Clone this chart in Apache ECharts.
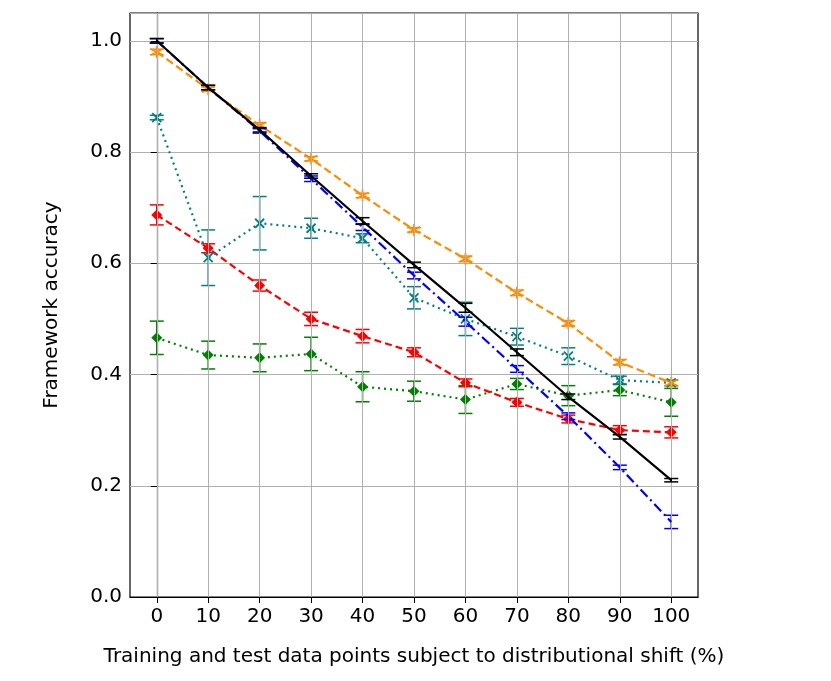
<!DOCTYPE html><html><head><meta charset="utf-8"><script src="https://cdn.jsdelivr.net/npm/echarts@6/dist/echarts.min.js"></script></head><body style="margin:0"><div id="c" style="width:831px;height:681px"></div><script>
const xs=[0,10,20,30,40,50,60,70,80,90,100];
const blackV=[1.0,0.916,0.84,0.757,0.676,0.597,0.52,0.44,0.36,0.288,0.21];
const blackE=[0.004,0.004,0.004,0.004,0.006,0.005,0.008,0.006,0.005,0.004,0.003];
const blueV=[1.0,0.916,0.838,0.752,0.665,0.578,0.495,0.41,0.325,0.233,0.135];
const blueE=[0.004,0.004,0.004,0.005,0.006,0.006,0.008,0.006,0.006,0.004,0.012];
const orangeV=[0.98,0.913,0.848,0.788,0.722,0.66,0.608,0.547,0.492,0.422,0.385];
const orangeE=[0.005,0.004,0.005,0.004,0.004,0.004,0.005,0.005,0.005,0.005,0.005];
const tealV=[0.862,0.61,0.672,0.663,0.645,0.538,0.5,0.468,0.433,0.39,0.385];
const tealE=[0.004,0.05,0.048,0.018,0.008,0.02,0.03,0.015,0.015,0.007,0.005];
const redV=[0.687,0.627,0.56,0.5,0.469,0.44,0.385,0.35,0.32,0.3,0.296];
const redE=[0.018,0.008,0.01,0.012,0.012,0.008,0.007,0.007,0.007,0.008,0.01];
const greenV=[0.466,0.435,0.43,0.437,0.378,0.37,0.355,0.383,0.362,0.372,0.35];
const greenE=[0.03,0.025,0.025,0.03,0.027,0.018,0.025,0.01,0.018,0.01,0.025];
function line(v,color,type,symbol,size,z,stroke){return {type:'line',data:xs.map((x,i)=>[x,v[i]]),z:z,lineStyle:{color:color,width:2.2,type:type},itemStyle:stroke?{color:color,borderColor:color,borderWidth:1.8}:{color:color},symbol:symbol,symbolSize:size,showSymbol:symbol!=='none'};}
function err(v,e,color,z){return {type:'custom',z:z,data:xs.map((x,i)=>[x,v[i]-e[i],v[i]+e[i]]),renderItem:(p,api)=>{const a=api.coord([api.value(0),api.value(1)]),b=api.coord([api.value(0),api.value(2)]);const w=7;return {type:'group',children:[{type:'line',shape:{x1:a[0],y1:a[1],x2:b[0],y2:b[1]},style:{stroke:color,lineWidth:1.5}},{type:'line',shape:{x1:a[0]-w,y1:a[1],x2:a[0]+w,y2:a[1]},style:{stroke:color,lineWidth:1.5}},{type:'line',shape:{x1:b[0]-w,y1:b[1],x2:b[0]+w,y2:b[1]},style:{stroke:color,lineWidth:1.5}}]};}};}
const star='path://M0,-10L0,10M-9,-5L9,5M-9,5L9,-5';
const xm='path://M-8,-8L8,8M-8,8L8,-8';
const ch=echarts.init(document.getElementById('c'));
const F='DejaVu Sans';
ch.setOption({animation:false,
grid:{left:130,right:133,top:13,bottom:84,show:true,borderColor:'#000',borderWidth:1.2},
xAxis:{type:'value',min:-5.2,max:105.2,name:'Training and test data points subject to distributional shift (%)',nameLocation:'middle',nameGap:50,nameTextStyle:{fontSize:20,color:'#000',fontFamily:F},
axisLine:{lineStyle:{color:'#000',width:1.2}},axisTick:{customValues:xs,length:6,lineStyle:{color:'#000'}},axisLabel:{customValues:xs,fontSize:20,color:'#000',fontFamily:F,margin:10},splitLine:{show:false}},
yAxis:{type:'value',min:0,max:1.05,interval:0.2,name:'Framework accuracy',nameLocation:'middle',nameGap:68,nameTextStyle:{fontSize:20,color:'#000',fontFamily:F},
axisLine:{show:true,lineStyle:{color:'#000',width:1.2}},axisTick:{show:true,length:6,lineStyle:{color:'#000'}},axisLabel:{showMaxLabel:false,fontSize:20,color:'#000',fontFamily:F,formatter:v=>v>1.01?'':v.toFixed(1)},splitLine:{lineStyle:{color:'#b0b0b0',width:1}}},
series:[
{type:'line',data:[],markLine:{silent:true,symbol:'none',label:{show:false},lineStyle:{color:'#b0b0b0',width:1,type:'solid'},data:xs.map(x=>({xAxis:x}))},z:1},
err(greenV,greenE,'green',2),line(greenV,'green',[2,4],'diamond',11,3),
err(redV,redE,'red',2),line(redV,'red',[7,4],'diamond',11,3),
err(tealV,tealE,'#008080',2),line(tealV,'#008080',[2,4],xm,9,3,true),
err(orangeV,orangeE,'darkorange',2),line(orangeV,'darkorange',[8,4],star,12,3,true),
err(blueV,blueE,'blue',4),line(blueV,'blue',[10,4,2,4],'none',0,5),
err(blackV,blackE,'black',6),line(blackV,'black','solid','none',0,7)
]});
</script></body></html>
